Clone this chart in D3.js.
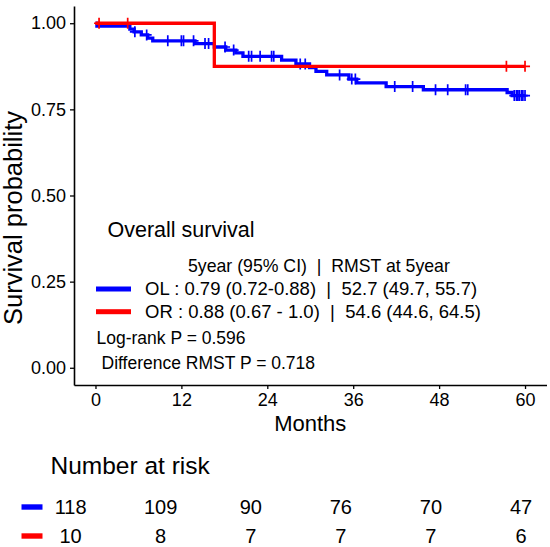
<!DOCTYPE html>
<html>
<head>
<meta charset="utf-8">
<script src="https://cdn.jsdelivr.net/npm/d3@7"></script>
<style>
  html, body { margin: 0; padding: 0; background: #fff; }
  svg { display: block; font-family: "Liberation Sans", Arial, sans-serif; }
</style>
</head>
<body>
<svg id="chart" width="550" height="547"></svg>
<script>
// KM steps (months, survival after the step)
var olTimes = [0, 0.2, 4.8, 5.4, 6.4, 7.3, 8.0, 13.9, 16.6, 18.2, 19.6, 20.6, 26.0, 28.0, 29.9, 30.8, 32.3, 35.4, 36.5, 40.6, 45.8, 57.5, 58.2];
var olSurv  = [1, 0.992, 0.983, 0.975, 0.966, 0.957, 0.949, 0.941, 0.931, 0.922, 0.914, 0.904, 0.893, 0.882, 0.871, 0.860, 0.850, 0.838, 0.827, 0.816, 0.807, 0.799, 0.790];
var olCensor = [5.5, 7.15, 10.1, 12.0, 12.3, 13.7, 15.3, 15.8, 18.1, 19.3, 21.4, 21.8, 23.0, 24.6, 24.9, 28.6, 29.3, 34.1, 35.8, 36.3, 41.8, 44.3, 47.5, 49.2, 51.7, 52.0, 58.5, 58.8, 59.0, 59.2, 59.5, 59.7, 60.0];

var orTimes = [0, 16.6];
var orSurv  = [1, 0.875];
var orCensor = [0.5, 4.5, 57.4, 60.0];

var endTime = 60;

var xTicks = [0, 12, 24, 36, 48, 60];
var yTicks = [0, 0.25, 0.5, 0.75, 1];

var riskTimes = [0, 12, 24, 36, 48, 60];
var riskOL = [118, 109, 90, 76, 70, 47];
var riskOR = [10, 8, 7, 7, 7, 6];

var legendRows = [
  'OL : 0.79 (0.72-0.88)  |  52.7 (49.7, 55.7)',
  'OR : 0.88 (0.67 - 1.0)  |  54.6 (44.6, 64.5)'
];

var blue = '#0000ff', red = '#ff0000';

var svg = d3.select('#chart');

// main panel
var pLeft = 74, pRight = 546.5, pTop = 6, pBottom = 385;
var x = d3.scaleLinear().domain([-3, 63]).range([pLeft, pRight]);
var y = d3.scaleLinear().domain([-0.05, 1.05]).range([pBottom, pTop]);

var gx = svg.append('g')
  .attr('transform', 'translate(0,' + pBottom + ')')
  .call(d3.axisBottom(x).tickValues(xTicks).tickSize(4).tickPadding(4).tickSizeOuter(0));
var gy = svg.append('g')
  .attr('transform', 'translate(' + pLeft + ',0)')
  .call(d3.axisLeft(y).tickValues(yTicks).tickFormat(d3.format('.2f')).tickSize(4).tickPadding(4).tickSizeOuter(0));

[gx, gy].forEach(function(g){
  g.select('.domain').attr('stroke', '#000').attr('stroke-width', 1.6);
  g.selectAll('.tick line').attr('stroke', '#000').attr('stroke-width', 1.3);
  g.selectAll('.tick text').attr('fill', '#000').style('font-size', '18px').style('font-family', '"Liberation Sans", Arial, sans-serif');
});

svg.append('text')
  .attr('x', (pLeft + pRight) / 2).attr('y', 431)
  .attr('text-anchor', 'middle')
  .style('font-size', '22px')
  .text('Months');

svg.append('text')
  .attr('transform', 'translate(22,218) rotate(-90)')
  .attr('text-anchor', 'middle')
  .style('font-size', '25.5px')
  .text('Survival probability');

// curves
function stepPoints(times, surv){
  var pts = times.map(function(t, i){ return [t, surv[i]]; });
  pts.push([endTime, surv[surv.length - 1]]);
  return pts;
}
function survAt(times, surv, t){
  var s = surv[0];
  for(var i=0; i<times.length; i++){
    if(times[i] <= t) s = surv[i];
  }
  return s;
}

var line = d3.line()
  .x(function(d){ return x(d[0]); })
  .y(function(d){ return y(d[1]); })
  .curve(d3.curveStepAfter);

function drawCurve(times, surv, censor, color){
  svg.append('path')
    .datum(stepPoints(times, surv))
    .attr('d', line)
    .attr('fill', 'none')
    .attr('stroke', color)
    .attr('stroke-width', 3.3);

  svg.append('g').selectAll('path')
    .data(censor)
    .enter().append('path')
    .attr('d', function(t){
      var cx = x(t), cy = y(survAt(times, surv, t));
      return 'M' + (cx - 5) + ',' + cy + 'H' + (cx + 5) + 'M' + cx + ',' + (cy - 5.5) + 'V' + (cy + 5.5);
    })
    .attr('stroke', color)
    .attr('stroke-width', 1.7)
    .attr('fill', 'none');
}

drawCurve(olTimes, olSurv, olCensor, blue);
drawCurve(orTimes, orSurv, orCensor, red);

// annotations inside the panel
svg.append('text')
  .attr('x', 107.5).attr('y', 237)
  .style('font-size', '21.5px')
  .text('Overall survival');

svg.append('text')
  .attr('x', 188).attr('y', 272)
  .style('font-size', '17.7px')
  .style('white-space', 'pre')
  .text('5year (95% CI)  |  RMST at 5year');

var legendY = [289, 311.7];
var legendCol = [blue, red];
legendRows.forEach(function(txt, i){
  svg.append('rect')
    .attr('x', 96).attr('y', legendY[i] - 2.5)
    .attr('width', 35).attr('height', 5)
    .attr('fill', legendCol[i]);
  svg.append('text')
    .attr('x', 145).attr('y', legendY[i] + 6.3)
    .style('font-size', '18.5px')
    .style('white-space', 'pre')
    .text(txt);
});

svg.append('text')
  .attr('x', 96.5).attr('y', 343.5)
  .style('font-size', '17.5px')
  .text('Log-rank P = 0.596');

svg.append('text')
  .attr('x', 101.5).attr('y', 369)
  .style('font-size', '17.5px')
  .text('Difference RMST P = 0.718');

// number at risk table
var xr = d3.scaleLinear().domain([0, 60]).range([70.6, 521]);

svg.append('text')
  .attr('x', 50.5).attr('y', 474)
  .style('font-size', '24.5px')
  .text('Number at risk');

var riskRows = [riskOL, riskOR];
var riskY = [507, 536];
riskRows.forEach(function(row, i){
  svg.append('rect')
    .attr('x', 21.5).attr('y', riskY[i] - 2.7)
    .attr('width', 21).attr('height', 5.4)
    .attr('fill', legendCol[i]);
  svg.append('g').selectAll('text')
    .data(row)
    .enter().append('text')
    .attr('x', function(d, j){ return xr(riskTimes[j]); })
    .attr('y', riskY[i] + 7)
    .attr('text-anchor', 'middle')
    .style('font-size', '20px')
    .text(function(d){ return d; });
});
</script>
</body>
</html>
